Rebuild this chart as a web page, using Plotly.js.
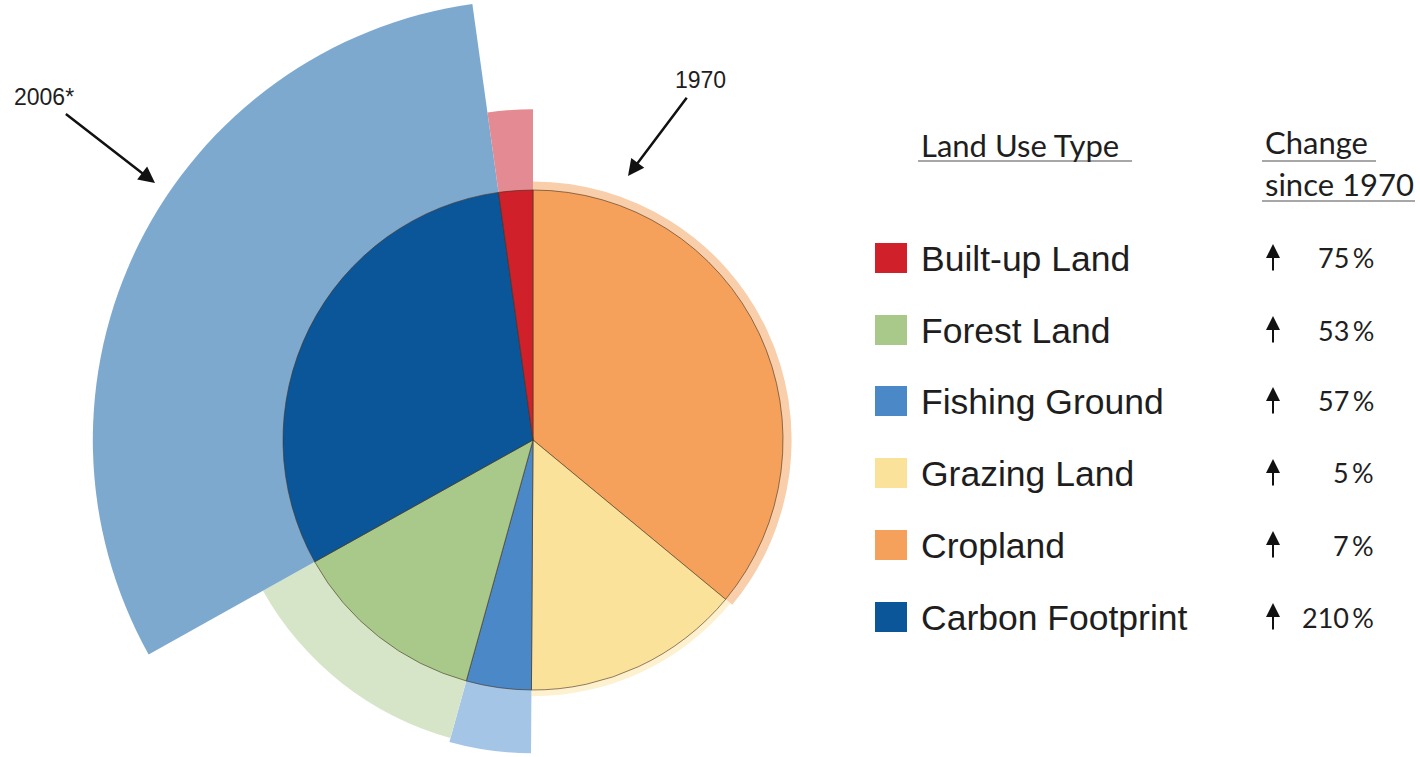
<!DOCTYPE html>
<html><head><meta charset="utf-8">
<script src="https://cdn.plot.ly/plotly-3.0.1.min.js"></script>
<style>
html,body{margin:0;padding:0;background:#fff;overflow:hidden;}
#wrap{position:relative;width:1420px;height:757px;overflow:hidden;}
#chart{position:absolute;left:0;top:-20px;width:1420px;height:920px;}
</style></head><body>
<div id="wrap"><div id="chart"></div></div>
<script>
// Slices clockwise from 12 o'clock
const categories = ['Cropland', 'Grazing Land', 'Fishing Ground', 'Forest Land', 'Carbon Footprint', 'Built-up Land'];
// share of the 1970 footprint (%)
const share1970 = [36.0, 14.1, 4.2, 12.6, 30.9, 2.2];
// change since 1970 (%)
const changeSince1970 = [7, 5, 57, 53, 210, 75];
const legendOrder = ['Built-up Land', 'Forest Land', 'Fishing Ground', 'Grazing Land', 'Cropland', 'Carbon Footprint'];
const color1970 = ['#f6a15b', '#fbe29b', '#4a88c8', '#a8c98a', '#0b5599', '#d0202a'];
const color2006 = ['#f9ceaa', '#fdf1cf', '#a4c5e6', '#d6e5c8', '#7ea9cf', '#e38a92'];

// ---- derived ----
const widths = share1970.map(s => s * 3.6);
const thetas = [];
let acc = 0;
widths.forEach(w => { thetas.push(acc + w / 2); acc += w; });
const r1970 = categories.map(() => 1);
const r2006 = changeSince1970.map(c => Math.sqrt(1 + c / 100)); // area-proportional

const W = 1420, H = 920, OFF = 20;
const px = x => x / W;
const py = y => 1 - (y + OFF) / H;
const CX = 533, R = 460, UNIT = 250;

const traces = [
  {type: 'barpolar', name: '2006', r: r2006, theta: thetas, width: widths,
   marker: {color: color2006, line: {width: 0}}, hoverinfo: 'skip', showlegend: false},
  {type: 'barpolar', name: '1970', r: r1970, theta: thetas, width: widths,
   marker: {color: color1970, line: {width: 1, color: 'rgba(70,50,30,0.6)'}},
   hoverinfo: 'skip', showlegend: false}
];

const annotations = [];
const shapes = [];
const txt = (x, y, text, size, family, anchor) => annotations.push({
  xref: 'paper', yref: 'paper', x: px(x), y: py(y), text: text, showarrow: false,
  xanchor: anchor || 'left', yanchor: 'middle',
  font: {size: size, family: family, color: '#1e1e1e'}
});

// headers
const hdrFont = 'Lato, "Open Sans", sans-serif';
txt(919, 145, 'Land Use Type', 31, hdrFont);
txt(1263, 142, 'Change', 31, hdrFont);
txt(1263, 184, 'since 1970', 31, hdrFont);
[[918, 1132, 161], [1262, 1376, 161], [1262, 1415, 201]].forEach(l => shapes.push({
  type: 'line', xref: 'paper', yref: 'paper', x0: px(l[0]), x1: px(l[1]), y0: py(l[2]), y1: py(l[2]),
  line: {color: '#8a8a8a', width: 1.5}
}));

// legend rows
const rowY = [258, 330, 401, 473, 545, 617];
legendOrder.forEach((name, i) => {
  const k = categories.indexOf(name);
  const y = rowY[i];
  shapes.push({type: 'rect', xref: 'paper', yref: 'paper',
    x0: px(875), x1: px(907), y0: py(y - 15), y1: py(y + 15),
    fillcolor: color1970[k], line: {width: 0}});
  txt(919, y + 1, name, 35.5, 'Arial, "Liberation Sans", sans-serif');
  annotations.push({xref: 'paper', yref: 'paper', x: px(1273), y: py(y - 14),
    ax: 0, ay: 28, text: '', showarrow: true, arrowhead: 2, arrowsize: 1.4,
    arrowwidth: 2, arrowcolor: '#111'});
  txt(1376, y, changeSince1970[k] + '\u2009%', 27, hdrFont, 'right');
});

// year pointers
annotations.push({xref: 'paper', yref: 'paper', x: px(155), y: py(183),
  ax: -111, ay: -86, text: '2006*', showarrow: true, arrowhead: 2, arrowsize: 1.3,
  arrowwidth: 2.5, arrowcolor: '#111', startstandoff: 4,
  font: {size: 23, family: 'Arial, "Liberation Sans", sans-serif', color: '#1e1e1e'}});
annotations.push({xref: 'paper', yref: 'paper', x: px(628), y: py(176),
  ax: 72, ay: -96, text: '1970', showarrow: true, arrowhead: 2, arrowsize: 1.3,
  arrowwidth: 2.5, arrowcolor: '#111', startstandoff: 4,
  font: {size: 23, family: 'Arial, "Liberation Sans", sans-serif', color: '#1e1e1e'}});

const layout = {
  width: W, height: H, margin: {l: 0, r: 0, t: 0, b: 0},
  paper_bgcolor: '#ffffff', plot_bgcolor: '#ffffff', showlegend: false,
  polar: {
    domain: {x: [(CX - R) / W, (CX + R) / W], y: [0, 1]},
    barmode: 'overlay', bgcolor: 'rgba(0,0,0,0)',
    angularaxis: {rotation: 90, direction: 'clockwise', visible: false},
    radialaxis: {visible: false, range: [0, R / UNIT]}
  },
  annotations: annotations, shapes: shapes
};

Plotly.newPlot('chart', traces, layout, {staticPlot: true, displayModeBar: false});
</script>
</body></html>
